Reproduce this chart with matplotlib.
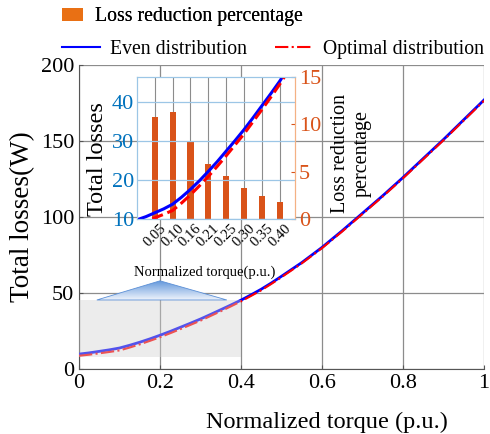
import numpy as np
import matplotlib.pyplot as plt
from matplotlib.lines import Line2D
from matplotlib.patches import Patch, Polygon, Rectangle
from matplotlib.colors import LinearSegmentedColormap

plt.rcParams['font.family'] = ['Liberation Serif', 'DejaVu Serif']

# loss curves (W)
torque = [0.000, 0.025, 0.050, 0.075, 0.100, 0.125, 0.150, 0.175, 0.200, 0.225,
          0.250, 0.275, 0.300, 0.325, 0.350, 0.375, 0.400, 0.425, 0.450, 0.475,
          0.500, 0.55, 0.60, 0.65, 0.70, 0.75, 0.80, 0.85, 0.90, 0.95, 1.00]
loss_even = [9.8, 10.6, 11.6, 12.6, 13.8, 15.6, 17.6, 19.8, 22.2, 24.7,
             27.4, 30.1, 32.9, 35.9, 39.0, 42.1, 45.3, 48.8, 52.5, 56.6,
             61.0, 70.0, 80.0, 91.0, 102.5, 114.0, 126.0, 138.5, 151.0, 164.0, 177.0]
loss_opt = [8.7, 9.4, 10.3, 11.2, 12.2, 14.1, 16.2, 18.5, 20.9, 23.5,
            26.2, 29.0, 31.8, 34.9, 38.0, 41.2, 44.5, 48.1, 51.8, 56.0,
            60.4, 69.5, 79.5, 90.5, 102.0, 113.5, 125.5, 138.0, 150.5, 163.5, 176.5]

# loss reduction bars (%)
bar_torque = [0.05, 0.10, 0.15, 0.20, 0.25, 0.30, 0.35, 0.40]
bar_labels = ['0.05', '0.10', '0.16', '0.21', '0.25', '0.30', '0.35', '0.40']
reduction = [10.8, 11.3, 8.1, 5.85, 4.5, 3.3, 2.45, 1.8]

main_xticks = [0, 0.2, 0.4, 0.6, 0.8, 1.0]
main_xlabels = ['0', '0.2', '0.4', '0.6', '0.8', '1']
main_yticks = [0, 50, 100, 150, 200]

BLUE = '#0000FF'
RED = '#FF0000'
ORANGE = '#D95319'
MBLUE = '#0072BD'

fig = plt.figure(figsize=(4.9, 4.34), dpi=100)

# --- main axes ---
ax = fig.add_axes([0.1612, 0.1498, 0.8266, 0.7004])
ax.plot(torque, loss_even, color=BLUE, lw=2.0, zorder=3)
ax.plot(torque, loss_opt, color=RED, lw=1.5, ls='-.', zorder=4)
ax.set_xticks(main_xticks)
ax.set_xticklabels(main_xlabels)
ax.set_yticks(main_yticks)
ax.grid(True, color='#8c8c8c', lw=0.9)
for s in ['top', 'right']:
    ax.spines[s].set_visible(False)
for s in ['left', 'bottom']:
    ax.spines[s].set_color('#555555')
ax.tick_params(direction='in', labelsize=16, length=3, color='#555555')
ax.set_xlabel('Normalized torque (p.u.)', fontsize=17.5)
ax.xaxis.set_label_coords(0.612, -0.142)
ax.set_ylabel('Total losses(W)', fontsize=19.5)
ax.yaxis.set_label_coords(-0.108, 0.5)

# zoom region box and connector
ax.add_patch(Rectangle((0, 7.9), 0.4, 37.5, facecolor='#d0d0d0', alpha=0.4,
                       edgecolor='none', zorder=5))
tri = Polygon([(0.044, 45.4), (0.2, 58.0), (0.365, 45.4)], closed=True,
              facecolor='none', edgecolor='#5b8fd6', lw=0.6, zorder=6)
ax.add_patch(tri)
cmap = LinearSegmentedColormap.from_list('g', ['#eef3fb', '#5f95db'])
grad = np.linspace(0, 1, 64).reshape(-1, 1)
im = ax.imshow(grad, extent=[0.044, 0.365, 45.4, 58.0], origin='lower',
               cmap=cmap, aspect='auto', zorder=5)
im.set_clip_path(tri)
ax.set_xlim(0, 1)
ax.set_ylim(0, 200)

# --- inset: bars on right axis, losses on left ---
axin = fig.add_axes([0.2796, 0.4954, 0.3224, 0.3272])
axin.set_facecolor('white')
axl = axin.twinx()

axin.bar(bar_torque, reduction, width=0.017, color=ORANGE, zorder=2)
axin.set_ylim(0, 15)
axin.set_yticks([0, 5, 10, 15])
axin.set_xlim(0, 0.443)
axin.set_xticks(bar_torque)
axin.set_xticklabels(bar_labels, rotation=45, fontsize=10.5, ha='center')
axin.tick_params(axis='x', length=0, pad=2)
axin.grid(True, axis='x', color='#8c8c8c', lw=0.8)
axin.set_axisbelow(True)
axin.set_xlabel('Normalized torque(p.u.)', fontsize=10.5)
axin.xaxis.set_label_coords(0.43, -0.325)

axl.plot(torque, loss_even, color=BLUE, lw=2.2)
axl.plot(torque, loss_opt, color=RED, lw=2.2, ls='--')
axl.set_ylim(10, 46.4)
axl.set_yticks([10, 20, 30, 40])
axl.grid(True, axis='y', color='#9cc6e6', lw=0.9)

# swap sides after twinx
axin.yaxis.tick_right()
axin.yaxis.set_label_position('right')
axin.tick_params(axis='y', colors=ORANGE, labelsize=16, direction='in', length=3, pad=3)
axin.set_ylabel('Loss reduction\npercentage', fontsize=14.5, color='black')
axin.yaxis.set_label_coords(1.23, 0.46)
axl.yaxis.tick_left()
axl.yaxis.set_label_position('left')
axl.tick_params(axis='y', colors=MBLUE, labelsize=16, length=0, pad=2)
axl.set_ylabel('Total losses', fontsize=17.5, color='black', labelpad=0)
axl.yaxis.set_label_coords(-0.185, 0.42)

for a in [axin, axl]:
    a.spines['left'].set_color('#9cc6e6')
    a.spines['bottom'].set_color('#9cc6e6')
    a.spines['top'].set_color('#9cc6e6')
    a.spines['right'].set_color('#f4b183')

# --- legends ---
h1 = [Patch(facecolor='#E97014', edgecolor='none')]
leg1 = fig.legend(h1, ['Loss reduction percentage'], loc='center left',
                  bbox_to_anchor=(0.126, 0.961), frameon=False, fontsize=14.2,
                  handlelength=1.07, handleheight=0.68, handletextpad=0.6,
                  borderpad=0, borderaxespad=0)
h2 = [Line2D([], [], color=BLUE, lw=1.5), Line2D([], [], color=RED, lw=1.5, ls='-.')]
fig.legend(h2, ['Even distribution', 'Optimal distribution'], loc='center left',
           bbox_to_anchor=(0.126, 0.887), frameon=False, fontsize=14.2, ncol=2,
           handlelength=1.95, handletextpad=0.5, columnspacing=1.4,
           borderpad=0, borderaxespad=0)
fig.add_artist(leg1)

fig.savefig('out.png', dpi=100)
